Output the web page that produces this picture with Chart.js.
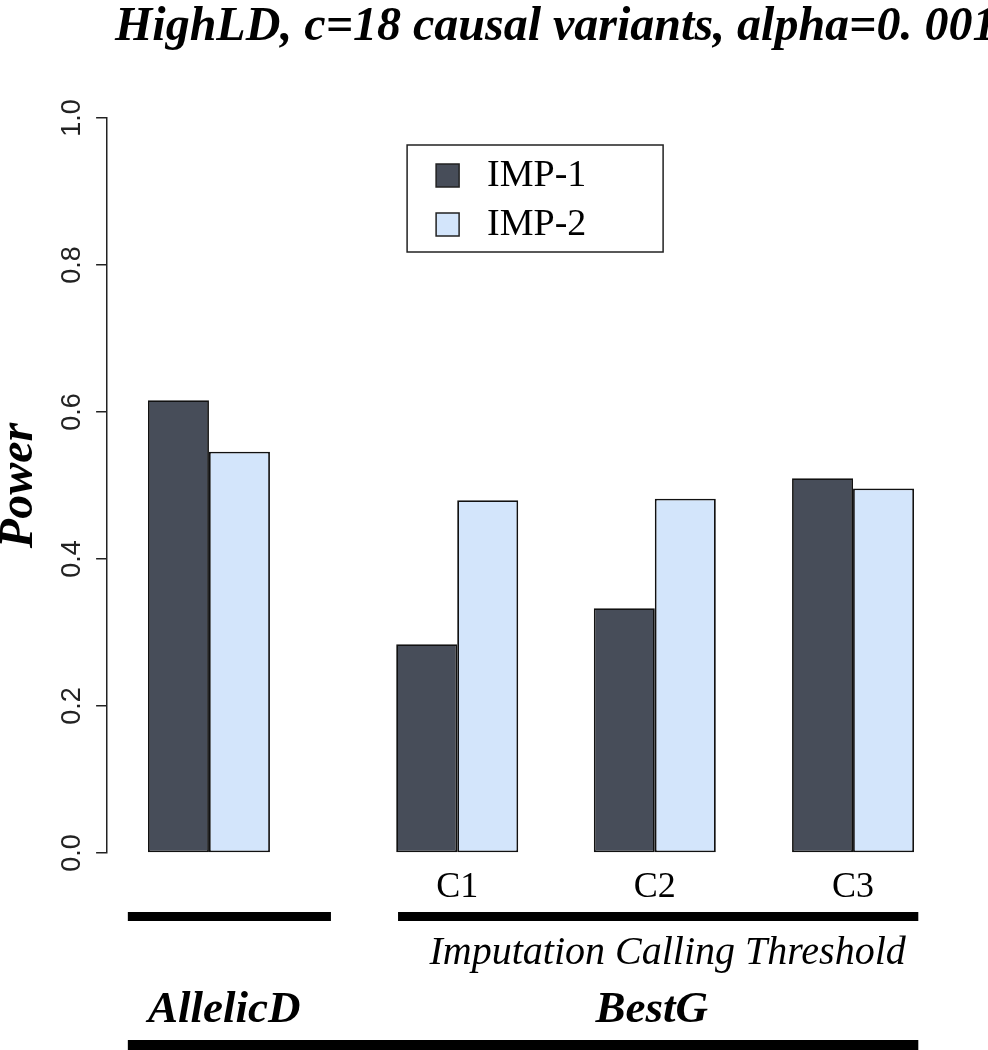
<!DOCTYPE html>
<html>
<head>
<meta charset="utf-8">
<script src="https://cdn.jsdelivr.net/npm/chart.js@4.4.1/dist/chart.umd.min.js"></script>
<style>
  html, body { margin: 0; padding: 0; background: #fff; }
  canvas { display: block; }
</style>
</head>
<body>
<canvas id="powerChart" width="988" height="1050"></canvas>
<script>
// values
const groups = ['AllelicD', 'C1', 'C2', 'C3'];
const groupPos = [1.67, 5.74, 8.98, 12.23];   // bar-group centres, in bar widths
const xTickLabels = ['', 'C1', 'C2', 'C3'];
const imp1 = [0.616, 0.284, 0.333, 0.510];
const imp2 = [0.546, 0.480, 0.482, 0.496];
const yTicks = [0, 0.2, 0.4, 0.6, 0.8, 1.0];
const seriesNames = ['IMP-1', 'IMP-2'];

const titleText = 'HighLD, c=18 causal variants, alpha=0. 001';

// group bars under the axis: [from, to] in bar-width units
const groupLines = [[0.34, 3.67], [4.77, 13.3]];
const bottomLine = [0.34, 13.3];
const groupLabels = ['AllelicD', 'BestG'];
const groupLabelPos = [1.92, 8.93];
const subLabel = 'Imputation Calling Threshold';
const subLabelPos = 9.19;

const serif = "'Liberation Serif', 'Times New Roman', serif";
const sans = "'Liberation Sans', Arial, sans-serif";

const toPoints = (vals) => groupPos.map((x, i) => ({ x: x, y: vals[i] }));

// title, legend box and the grouping bars below the axis
const decorations = {
  id: 'decorations',
  afterDraw(chart) {
    const ctx = chart.ctx;
    const area = chart.chartArea;
    const xs = chart.scales.x;
    ctx.save();

    // title
    ctx.fillStyle = '#000';
    ctx.font = 'italic bold 48px ' + serif;
    ctx.textAlign = 'left';
    ctx.textBaseline = 'alphabetic';
    ctx.fillText(titleText, 115, 40);

    // legend
    const lx = area.left + 300, ly = area.top + 27, lw = 256, lh = 107;
    ctx.lineWidth = 1.5;
    ctx.strokeStyle = '#222';
    ctx.strokeRect(lx, ly, lw, lh);
    ctx.font = '38px ' + serif;
    ctx.textBaseline = 'middle';
    chart.data.datasets.forEach((ds, i) => {
      const cy = ly + 30.5 + i * 49;
      ctx.fillStyle = ds.backgroundColor;
      ctx.fillRect(lx + 29, cy - 11.5, 23, 23);
      ctx.strokeRect(lx + 29, cy - 11.5, 23, 23);
      ctx.fillStyle = '#000';
      ctx.fillText(ds.label, lx + 80, cy + 1);
    });

    // grouping lines
    ctx.strokeStyle = '#000';
    ctx.lineCap = 'butt';
    ctx.lineWidth = 9;
    groupLines.forEach(([a, b]) => {
      ctx.beginPath();
      ctx.moveTo(xs.getPixelForValue(a), area.bottom + 63.5);
      ctx.lineTo(xs.getPixelForValue(b), area.bottom + 63.5);
      ctx.stroke();
    });
    ctx.lineWidth = 10;
    ctx.beginPath();
    ctx.moveTo(xs.getPixelForValue(bottomLine[0]), area.bottom + 192);
    ctx.lineTo(xs.getPixelForValue(bottomLine[1]), area.bottom + 192);
    ctx.stroke();

    ctx.fillStyle = '#000';
    ctx.textAlign = 'center';
    ctx.textBaseline = 'alphabetic';
    ctx.font = 'italic 40px ' + serif;
    ctx.fillText(subLabel, xs.getPixelForValue(subLabelPos), area.bottom + 111);
    ctx.font = 'italic bold 45px ' + serif;
    groupLabels.forEach((t, i) => {
      ctx.fillText(t, xs.getPixelForValue(groupLabelPos[i]), area.bottom + 169);
    });
    ctx.restore();
  }
};

new Chart(document.getElementById('powerChart'), {
  type: 'bar',
  data: {
    datasets: [
      {
        label: seriesNames[0],
        data: toPoints(imp1),
        backgroundColor: '#474D59',
        borderColor: '#111',
        borderWidth: 1.8,
        borderSkipped: false
      },
      {
        label: seriesNames[1],
        data: toPoints(imp2),
        backgroundColor: '#D3E5FB',
        borderColor: '#111',
        borderWidth: 1.8,
        borderSkipped: false
      }
    ]
  },
  options: {
    responsive: false,
    animation: false,
    devicePixelRatio: 1,
    categoryPercentage: 2 / (groupPos[2] - groupPos[1]),
    barPercentage: 1,
    layout: { padding: { top: 118, right: 27, bottom: 127, left: 0 } },
    plugins: {
      legend: { display: false },
      title: { display: false },
      tooltip: { enabled: false }
    },
    scales: {
      x: {
        type: 'linear',
        min: 0,
        max: 14,
        offset: false,
        afterBuildTicks: (axis) => { axis.ticks = groupPos.map(v => ({ value: v })); },
        grid: { display: false, drawTicks: false },
        border: { display: false },
        ticks: {
          autoSkip: false,
          maxRotation: 0,
          padding: 17,
          color: '#000',
          font: { family: serif, size: 36, lineHeight: 1 },
          callback: (v, i) => xTickLabels[i]
        }
      },
      y: {
        min: 0,
        max: 1,
        afterBuildTicks: (axis) => { axis.ticks = yTicks.map(v => ({ value: v })); },
        grid: {
          drawOnChartArea: false,
          drawTicks: true,
          tickLength: 11,
          color: '#222',
          lineWidth: 1.5
        },
        border: { display: true, color: '#222', width: 1.5 },
        ticks: {
          minRotation: 90,
          maxRotation: 90,
          crossAlign: 'center',
          padding: 4.5,
          color: '#222',
          font: { family: sans, size: 27, lineHeight: 1.2 },
          callback: (v) => v.toFixed(1)
        },
        title: {
          display: true,
          text: 'Power',
          color: '#000',
          padding: { top: 0, bottom: 16.3 },
          font: { family: serif, size: 48, style: 'italic', weight: 'bold', lineHeight: 0.8 }
        }
      }
    }
  },
  plugins: [decorations]
});
</script>
</body>
</html>
